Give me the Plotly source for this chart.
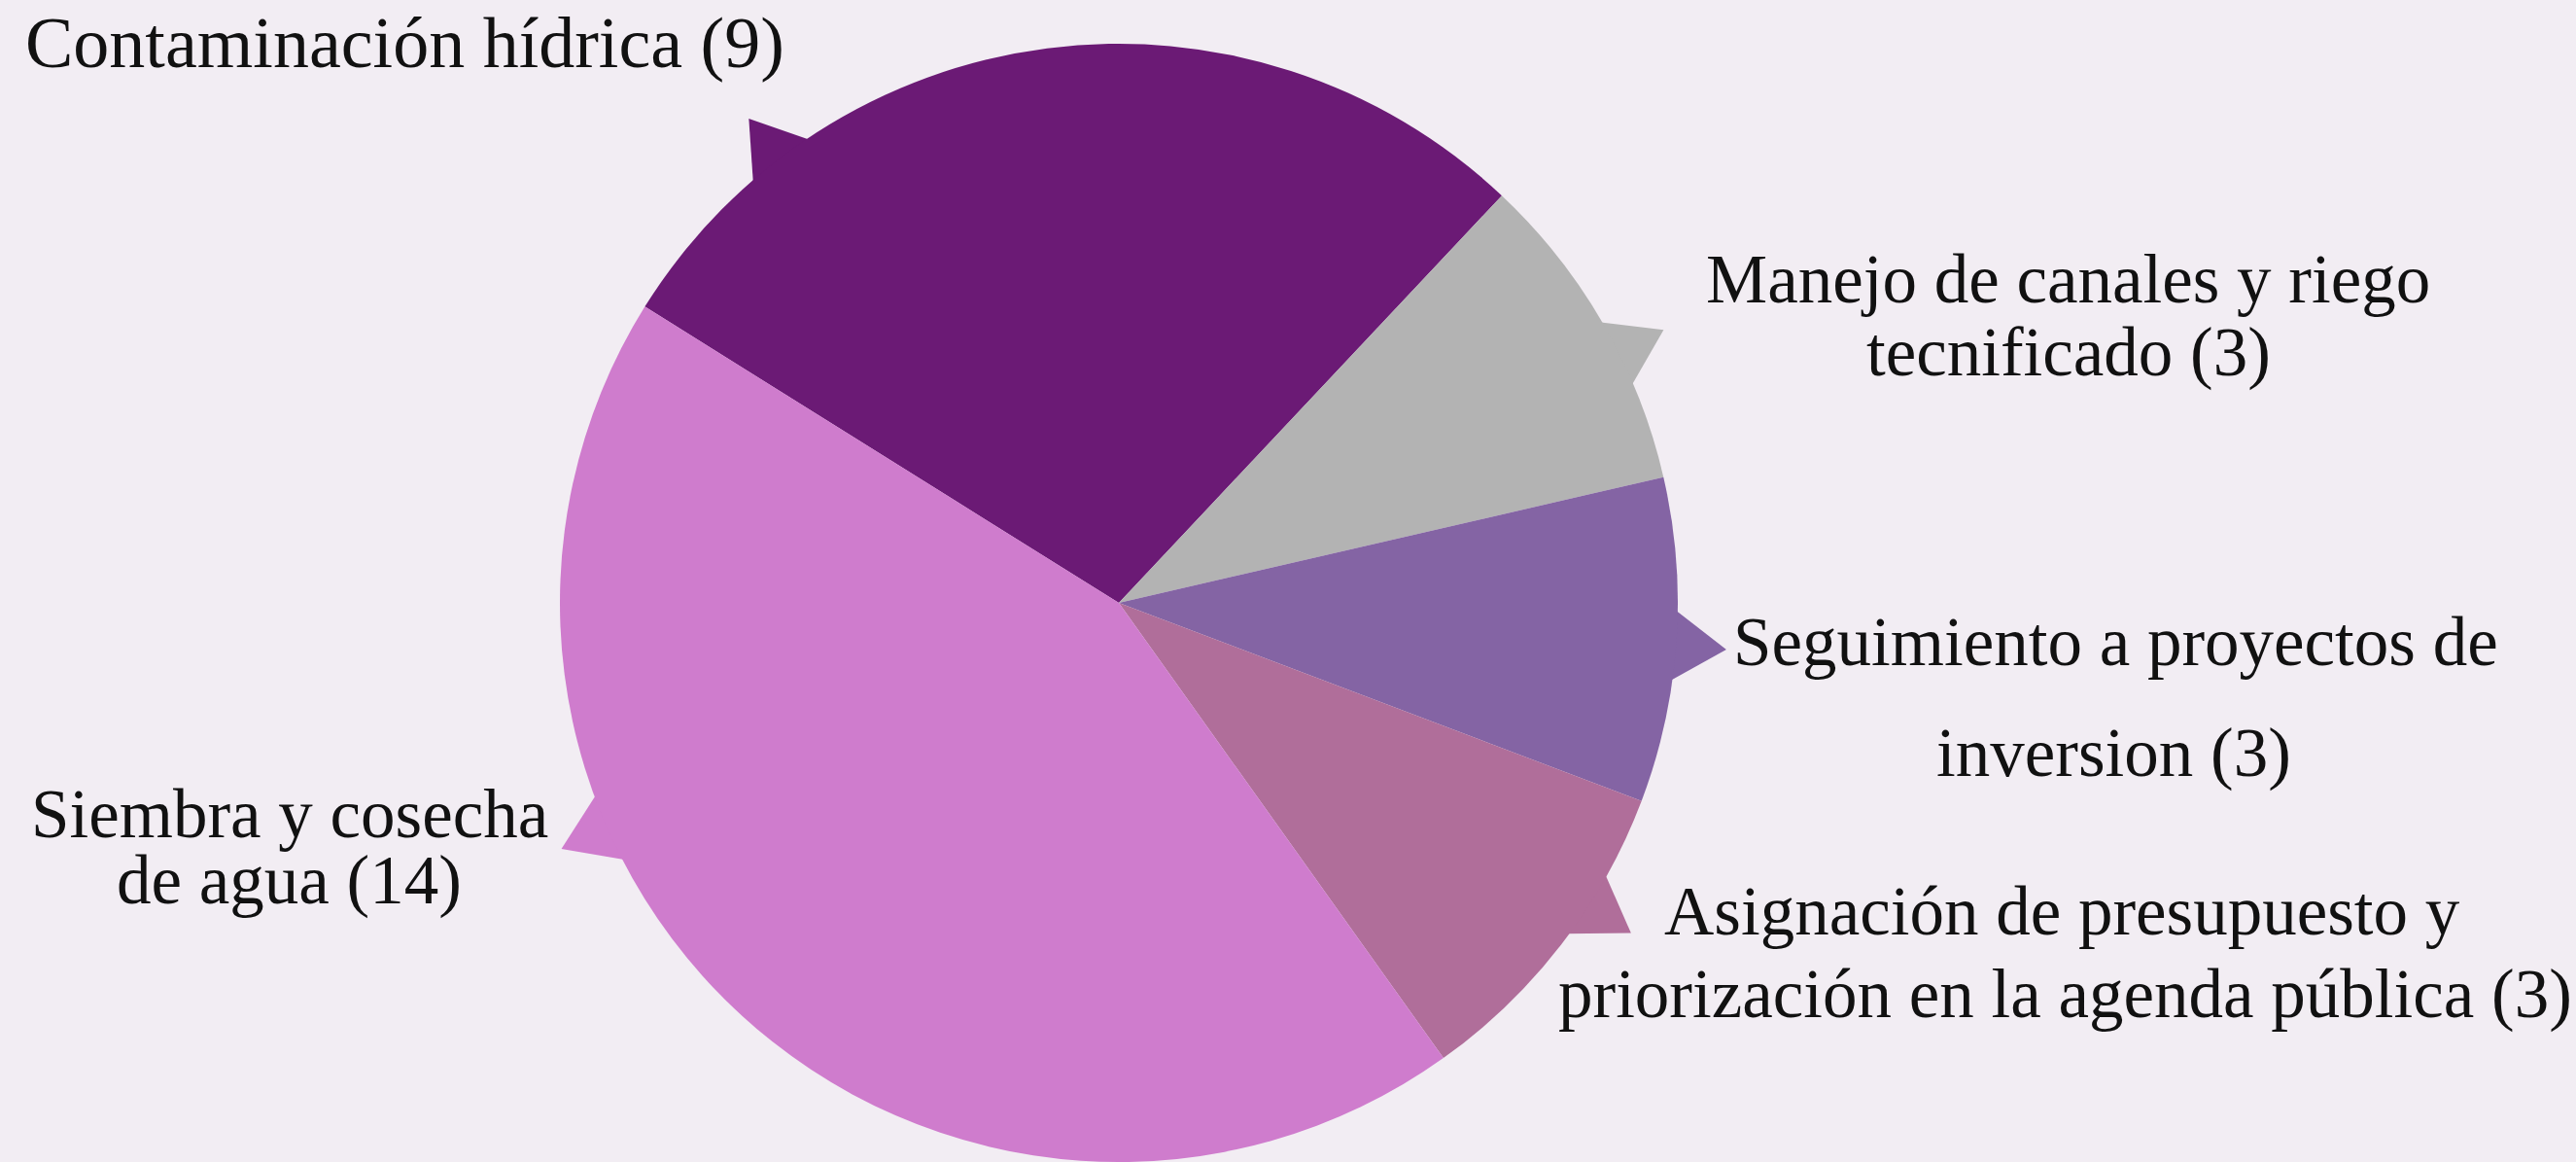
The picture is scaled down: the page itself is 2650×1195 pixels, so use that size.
import math
import plotly.graph_objects as go

# ---- data ----
categories = [
    "Contaminación hídrica",
    "Manejo de canales y riego tecnificado",
    "Seguimiento a proyectos de inversion",
    "Asignación de presupuesto y priorización en la agenda pública",
    "Siembra y cosecha de agua",
]
values = [9, 3, 3, 3, 14]
colors = ["#6b1a75", "#b3b3b3", "#8464a4", "#b06e9a", "#cf7ccd"]

# label lines (text) per slice
label_lines = [
    ["Contaminación hídrica (9)"],
    ["Manejo de canales y riego", "tecnificado (3)"],
    ["Seguimiento a proyectos de", "inversion (3)"],
    ["Asignación de presupuesto y", "priorización en la agenda pública (3)"],
    ["Siembra y cosecha", "de agua (14)"],
]

# ---- layout (pixels) ----
W, H = 2650, 1195
CX, CY, R = 1151, 620, 575
BG = "#f2edf3"
FONT = "Liberation Serif"
ROTATION = -58
# callout pointer directions (deg clockwise from 12 o'clock)
callout_angles = [-37.4, 63.4, 94.4, 122.8, 246.2]
POINT_HALF = 3.7
POINT_TIP = 1.09
# label line anchors: (center x px, baseline y px)
label_pos = [
    [(416, 68)],
    [(2127, 310), (2128, 385)],
    [(2176, 683), (2174, 797)],
    [(2121, 960), (2124, 1045)],
    [(298, 860), (297, 928)],
]
label_sizes = [74, 71, 71, 71, 71]

fig = go.Figure()

pie_dom_x = [(CX - R) / W, (CX + R) / W]
pie_dom_y = [max(0.0, 1 - (CY + R) / H), 1 - (CY - R) / H]

fig.add_trace(go.Pie(
    labels=categories, values=values, sort=False, direction="clockwise",
    rotation=ROTATION, marker=dict(colors=colors, line=dict(width=0)),
    textinfo="none", hoverinfo="label+value", showlegend=False,
    domain=dict(x=pie_dom_x, y=pie_dom_y),
))

# pointer triangles, in unit-radius coordinates
for ang, col in zip(callout_angles, colors):
    pts = []
    for a, r in [(ang - POINT_HALF, 0.995), (ang, POINT_TIP), (ang + POINT_HALF, 0.995)]:
        t = math.radians(a)
        pts.append((r * math.sin(t), r * math.cos(t)))
    pts.append(pts[0])
    fig.add_trace(go.Scatter(
        x=[p[0] for p in pts], y=[p[1] for p in pts], mode="lines",
        fill="toself", fillcolor=col, line=dict(width=0, color=col),
        hoverinfo="skip", showlegend=False,
    ))

annotations = []
for lines, poss, fs in zip(label_lines, label_pos, label_sizes):
    for txt, (px, py) in zip(lines, poss):
        annotations.append(dict(
            text=txt, x=px / W, y=1 - (py - 0.32 * fs) / H,
            xref="paper", yref="paper", xanchor="center", yanchor="middle",
            showarrow=False, font=dict(family=FONT, size=fs, color="#111111"),
        ))

fig.update_layout(
    width=W, height=H, paper_bgcolor=BG, plot_bgcolor="rgba(0,0,0,0)",
    margin=dict(l=0, r=0, t=0, b=0), showlegend=False,
    xaxis=dict(domain=[0, 1], range=[-CX / R, (W - CX) / R], visible=False, fixedrange=True),
    yaxis=dict(domain=[0, 1], range=[-(H - CY) / R, CY / R], visible=False, fixedrange=True),
    annotations=annotations,
)

fig.write_html(
    "out.html",
    config={"displayModeBar": False},
    post_script="document.body.style.margin='0';document.body.style.overflow='hidden';document.body.style.background='%s';" % BG,
)
